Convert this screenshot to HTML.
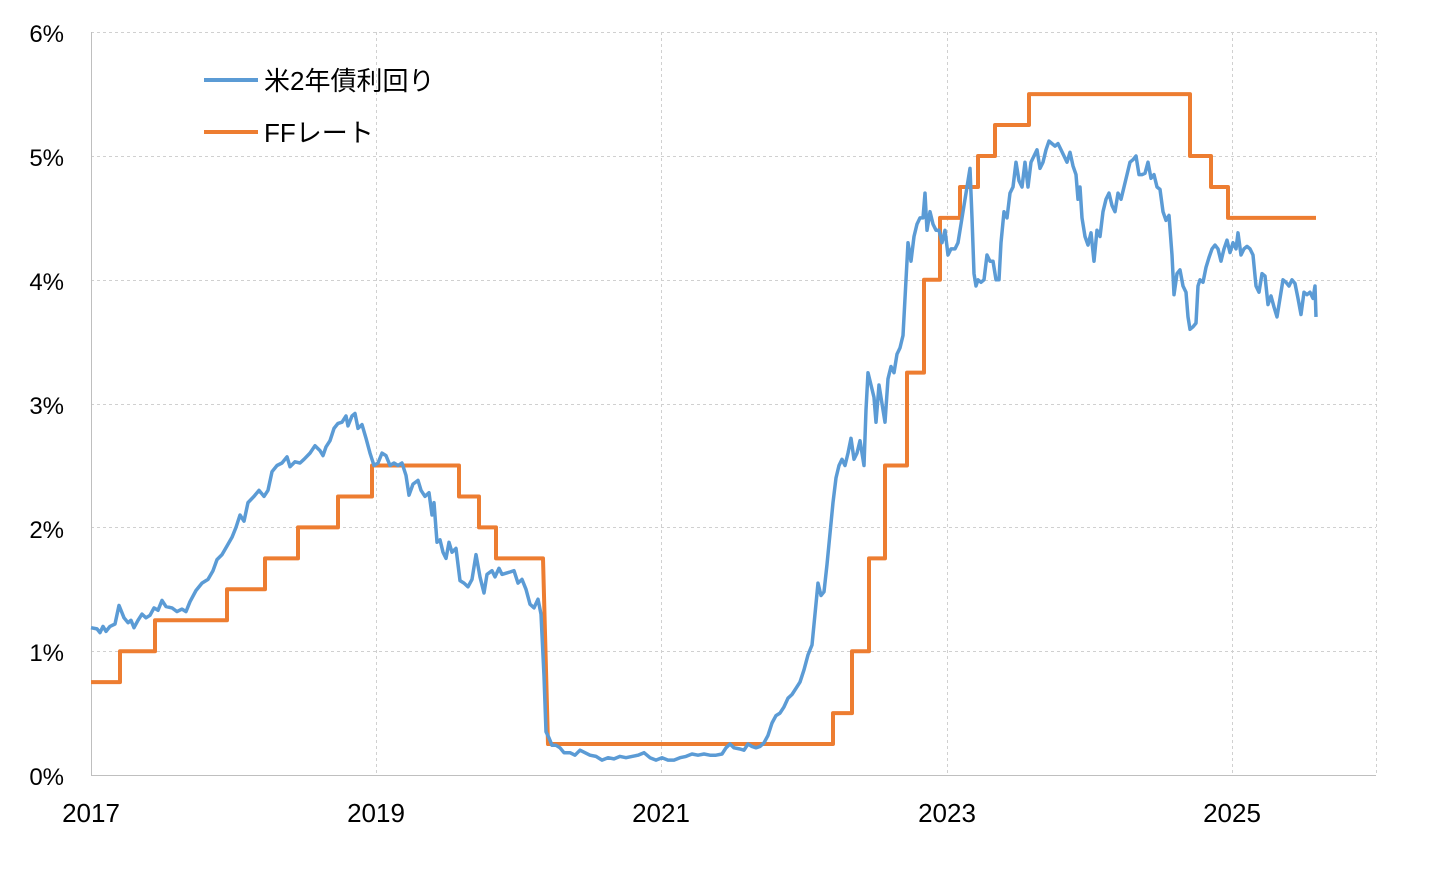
<!DOCTYPE html>
<html><head><meta charset="utf-8"><style>
html,body{margin:0;padding:0;background:#fff;}
svg text{font-family:"Liberation Sans","Noto Sans CJK JP",sans-serif;fill:#000;}
</style></head><body>
<svg id="c" width="1456" height="869" viewBox="0 0 1456 869" xmlns="http://www.w3.org/2000/svg">
<g stroke="#d0d0d0" stroke-width="1" stroke-dasharray="3,3">
<line x1="91" x2="1376" y1="32.5" y2="32.5"/>
<line x1="91" x2="1376" y1="156.5" y2="156.5"/>
<line x1="91" x2="1376" y1="280.5" y2="280.5"/>
<line x1="91" x2="1376" y1="404.5" y2="404.5"/>
<line x1="91" x2="1376" y1="527.5" y2="527.5"/>
<line x1="91" x2="1376" y1="651.5" y2="651.5"/>
<line x1="376.5" x2="376.5" y1="32" y2="775"/>
<line x1="661.5" x2="661.5" y1="32" y2="775"/>
<line x1="947.5" x2="947.5" y1="32" y2="775"/>
<line x1="1232.5" x2="1232.5" y1="32" y2="775"/>
<line x1="1376.5" x2="1376.5" y1="32" y2="775"/>
</g>
<line x1="91.5" x2="91.5" y1="32" y2="775" stroke="#bfbfbf"/>
<line x1="91" x2="1376" y1="775.5" y2="775.5" stroke="#bfbfbf"/>
<g font-size="24" text-anchor="end">
<text x="64" y="42">6%</text><text x="64" y="166">5%</text><text x="64" y="290">4%</text>
<text x="64" y="414">3%</text><text x="64" y="538">2%</text><text x="64" y="661">1%</text><text x="64" y="785">0%</text>
</g>
<g font-size="26" text-anchor="middle">
<text x="91" y="822">2017</text><text x="376" y="822">2019</text><text x="661" y="822">2021</text>
<text x="947" y="822">2023</text><text x="1232" y="822">2025</text>
</g>
<line x1="204" x2="258" y1="80" y2="80" stroke="#5b9bd5" stroke-width="4"/>
<text x="264" y="90" font-size="26">米2年債利回り</text>
<line x1="204" x2="258" y1="132" y2="132" stroke="#ed7d31" stroke-width="4"/>
<text x="264" y="142" font-size="26">FFレート</text>
<polyline id="ff" fill="none" stroke="#ed7d31" stroke-width="4" stroke-linejoin="round"/>
<polyline id="y2" fill="none" stroke="#5b9bd5" stroke-width="3.5" stroke-linejoin="round"/>
</svg>
<script>
function Y(v){return 775-123.8*v;}
var ff=[[91,0.75],[120,1],[155,1.25],[227,1.5],[265,1.75],[298,2],[338,2.25],[372,2.5],[459,2.25],[479,2],[496,1.75],[543,1.75],[548,0.25],[833,0.5],[852,1],[869,1.75],[885,2.5],[907,3.25],[924,4],[940,4.5],[960,4.75],[978,5],[995,5.25],[1029,5.5],[1190,5],[1211,4.75],[1228,4.5],[1316,4.5]];
var p=[];for(var i=0;i<ff.length;i++){var x=ff[i][0],v=ff[i][1];if(i>0&&i!=12&&i!=ff.length-1){p.push(x+","+Y(ff[i-1][1]));}if(i==12){}p.push(x+","+Y(v));}
document.getElementById('ff').setAttribute('points',p.join(' '));
var d=[91,1.19,97,1.18,100,1.15,103,1.2,106,1.16,110,1.2,115,1.22,119,1.37,124,1.27,128,1.23,131,1.25,134,1.19,138,1.25,142,1.3,146,1.27,150,1.29,154,1.35,158,1.33,162,1.41,166,1.36,172,1.35,177,1.32,182,1.34,186,1.32,190,1.40,196,1.49,202,1.55,208,1.58,213,1.65,217,1.74,222,1.78,227,1.85,232,1.92,236,2.0,240,2.1,244,2.05,248,2.2,254,2.25,259,2.3,264,2.25,268,2.3,272,2.45,277,2.5,282,2.52,287,2.57,290,2.49,295,2.53,300,2.52,304,2.55,310,2.6,315,2.66,320,2.62,323,2.58,326,2.65,330,2.7,334,2.8,338,2.84,342,2.85,346,2.9,348,2.82,352,2.9,355,2.92,358,2.8,362,2.83,366,2.72,370,2.6,374,2.5,378,2.52,382,2.6,386,2.58,390,2.5,394,2.52,398,2.5,402,2.52,406,2.42,409,2.26,413,2.35,418,2.38,421,2.3,425,2.25,429,2.28,432,2.1,434,2.2,437,1.88,440,1.9,443,1.8,446,1.75,449,1.88,452,1.8,456,1.83,460,1.57,464,1.55,468,1.52,472,1.58,476,1.78,480,1.6,484,1.47,487,1.62,492,1.65,495,1.6,499,1.67,502,1.62,506,1.63,510,1.64,514,1.65,518,1.55,522,1.58,526,1.5,530,1.38,534,1.35,538,1.42,541,1.3,544,0.8,546,0.35,549,0.3,552,0.24,556,0.24,560,0.22,564,0.18,570,0.18,575,0.16,580,0.2,585,0.18,590,0.16,596,0.15,602,0.12,608,0.14,614,0.13,620,0.15,626,0.14,632,0.15,638,0.16,644,0.18,650,0.14,656,0.12,662,0.14,668,0.12,674,0.12,680,0.14,686,0.15,692,0.17,698,0.16,704,0.17,710,0.16,716,0.16,722,0.17,726,0.22,730,0.25,734,0.22,740,0.21,744,0.2,748,0.25,752,0.23,756,0.22,760,0.23,764,0.26,768,0.32,772,0.42,776,0.48,780,0.5,784,0.55,788,0.62,792,0.65,796,0.7,800,0.75,804,0.85,808,0.97,812,1.05,815,1.3,818,1.55,821,1.45,824,1.48,827,1.7,830,1.95,833,2.2,836,2.4,839,2.5,842,2.55,845,2.5,848,2.6,851,2.72,854,2.55,857,2.6,860,2.7,864,2.5,866,2.95,868,3.25,871,3.15,874,3.05,876,2.85,879,3.15,882,3.0,885,2.85,888,3.2,891,3.3,894,3.25,897,3.4,900,3.45,903,3.55,906,4.0,908,4.3,911,4.15,914,4.35,917,4.45,920,4.5,923,4.5,925,4.7,927,4.4,930,4.55,933,4.45,936,4.4,939,4.4,942,4.3,945,4.4,948,4.2,951,4.25,955,4.25,958,4.3,961,4.45,964,4.6,967,4.75,970,4.9,972,4.5,974,4.05,976,3.95,978,4.0,981,3.98,984,4.0,987,4.2,990,4.15,993,4.15,996,4.0,999,4.0,1001,4.3,1004,4.55,1007,4.5,1010,4.7,1013,4.75,1016,4.95,1019,4.8,1022,4.75,1025,4.95,1028,4.75,1031,4.95,1034,5.0,1037,5.05,1040,4.9,1043,4.95,1046,5.05,1049,5.12,1052,5.1,1055,5.08,1058,5.1,1061,5.05,1064,5.0,1067,4.95,1070,5.03,1073,4.92,1076,4.85,1078,4.65,1080,4.75,1082,4.5,1085,4.35,1088,4.28,1091,4.38,1094,4.15,1097,4.4,1100,4.35,1103,4.55,1106,4.65,1109,4.7,1112,4.6,1115,4.55,1118,4.7,1121,4.65,1124,4.75,1127,4.85,1130,4.95,1133,4.97,1136,5.0,1139,4.85,1142,4.85,1145,4.86,1148,4.95,1151,4.82,1154,4.85,1157,4.75,1160,4.73,1163,4.55,1166,4.48,1169,4.52,1172,4.2,1174,3.88,1177,4.05,1180,4.08,1183,3.95,1186,3.9,1188,3.7,1190,3.6,1193,3.62,1196,3.65,1198,3.95,1200,4.0,1203,3.98,1206,4.1,1209,4.18,1212,4.25,1215,4.28,1218,4.25,1221,4.15,1224,4.25,1227,4.32,1230,4.22,1233,4.3,1236,4.25,1238,4.38,1241,4.2,1244,4.25,1247,4.27,1250,4.25,1253,4.2,1256,3.95,1259,3.9,1262,4.05,1265,4.03,1268,3.8,1271,3.87,1274,3.78,1277,3.7,1280,3.85,1283,4.0,1286,3.98,1289,3.95,1292,4.0,1295,3.97,1298,3.85,1301,3.72,1304,3.9,1307,3.88,1310,3.9,1313,3.85,1315,3.95,1316,3.7];
var q=[];for(var j=0;j<d.length;j+=2)q.push(d[j]+","+Y(d[j+1]).toFixed(1));
document.getElementById('y2').setAttribute('points',q.join(' '));
</script>
</body></html>
